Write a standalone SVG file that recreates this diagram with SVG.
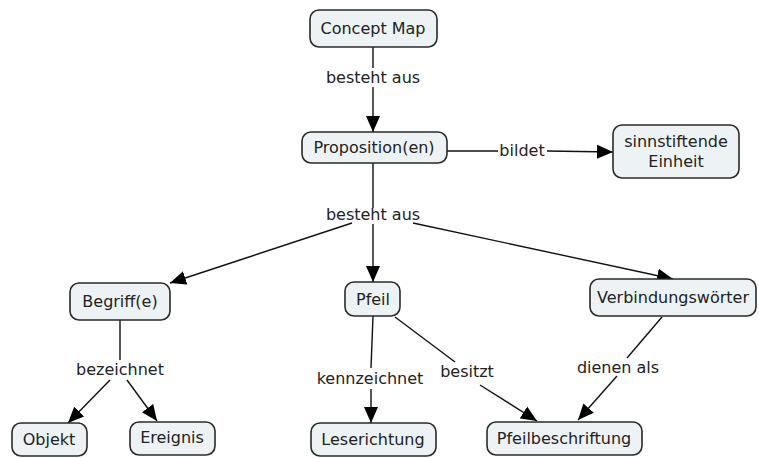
<svg xmlns="http://www.w3.org/2000/svg" width="759" height="458" viewBox="0 0 759 458">
<defs>
<marker id="arr" markerUnits="userSpaceOnUse" markerWidth="17" markerHeight="15" refX="16" refY="7.5" orient="auto">
<path d="M0,0.5 L16,7.5 L0,14.5 z" fill="#000"/>
</marker>
<style>
.box{fill:#edf3f5;stroke:#2a2a2a;stroke-width:1.6}
.t{font-family:"DejaVu Sans",Verdana,sans-serif;font-size:16px;fill:#222;text-anchor:middle}
.c{stroke:#111;stroke-width:1.4;fill:none}
.a{marker-end:url(#arr)}
</style>
</defs>
<rect width="759" height="458" fill="#fff"/>
<g id="connectors">
<line class="c" x1="373" y1="47" x2="373" y2="68"/>
<line class="c a" x1="373" y1="87" x2="373" y2="132"/>
<text class="t" x="373" y="83">besteht aus</text>
<line class="c" x1="447" y1="151" x2="498" y2="151"/>
<line class="c a" x1="547" y1="151" x2="613" y2="152"/>
<text class="t" x="522" y="156">bildet</text>
<line class="c" x1="373" y1="163" x2="373" y2="208"/>
<text class="t" x="373" y="220">besteht aus</text>
<line class="c a" x1="373" y1="224" x2="373" y2="282"/>
<line class="c a" x1="352" y1="223" x2="170" y2="283"/>
<line class="c a" x1="413" y1="223" x2="673" y2="279"/>
<line class="c" x1="120" y1="320" x2="120" y2="360"/>
<text class="t" x="120" y="375">bezeichnet</text>
<line class="c a" x1="110" y1="380" x2="68" y2="423"/>
<line class="c a" x1="127" y1="380" x2="157" y2="421"/>
<line class="c" x1="373" y1="316" x2="371" y2="368"/>
<text class="t" x="370" y="384">kennzeichnet</text>
<line class="c a" x1="371" y1="389" x2="371" y2="423"/>
<line class="c" x1="395" y1="317" x2="455" y2="362"/>
<text class="t" x="467" y="377">besitzt</text>
<line class="c a" x1="480" y1="385" x2="537" y2="421"/>
<line class="c" x1="662" y1="317" x2="627" y2="358"/>
<text class="t" x="618" y="373">dienen als</text>
<line class="c a" x1="617" y1="376" x2="578" y2="420"/>
</g>
<g id="concept-map"><rect class="box" x="310" y="10" width="127" height="37" rx="9"/><text class="t" x="373" y="34">Concept Map</text></g>
<g id="proposition"><rect class="box" x="302" y="132" width="145" height="31" rx="9"/><text class="t" x="374" y="153">Proposition(en)</text></g>
<g id="sinnstiftende-einheit"><rect class="box" x="613" y="125" width="126" height="53" rx="9"/><text class="t" x="676" y="147">sinnstiftende</text><text class="t" x="676" y="167">Einheit</text></g>
<g id="begriff"><rect class="box" x="70" y="283" width="100" height="37" rx="9"/><text class="t" x="120" y="307">Begriff(e)</text></g>
<g id="pfeil"><rect class="box" x="345" y="282" width="55" height="34" rx="9"/><text class="t" x="373" y="305">Pfeil</text></g>
<g id="verbindungswoerter"><rect class="box" x="590" y="279" width="166" height="37" rx="9"/><text class="t" x="673" y="303">Verbindungswörter</text></g>
<g id="objekt"><rect class="box" x="12" y="423" width="75" height="33" rx="9"/><text class="t" x="49" y="445">Objekt</text></g>
<g id="ereignis"><rect class="box" x="130" y="422" width="85" height="33" rx="9"/><text class="t" x="172" y="443">Ereignis</text></g>
<g id="leserichtung"><rect class="box" x="311" y="423" width="125" height="33" rx="9"/><text class="t" x="373" y="445">Leserichtung</text></g>
<g id="pfeilbeschriftung"><rect class="box" x="487" y="422" width="155" height="33" rx="9"/><text class="t" x="564" y="444">Pfeilbeschriftung</text></g>
</svg>
